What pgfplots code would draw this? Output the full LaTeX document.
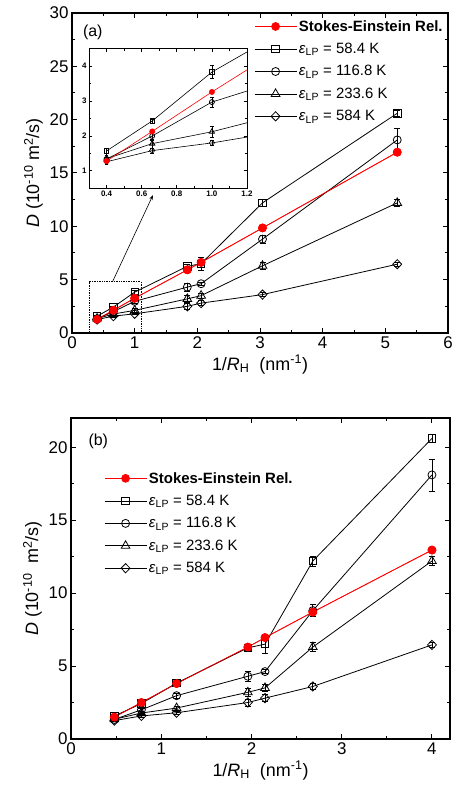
\documentclass[border=0pt]{standalone}
\usepackage{fontspec}
\setmainfont{Liberation Sans}
\usepackage{pgfplots}
\pgfplotsset{compat=1.18}
\usepackage{pgfplotstable}
\usetikzlibrary{arrows.meta}

% xa: 1/R_H in panel (a), xb: 1/R_H in panel (b)
\pgfplotstableread{
xa   xb   y     e
0.40 0.48 1.57  0.08
0.66 0.78 2.43  0.06
1.00 1.17 3.83  0.18
1.84 1.96 6.25  0.15
2.06 2.15 6.50  0.60
3.04 2.68 12.2  0.35
5.19 4.00 20.6  0.30
}\sqtab
\pgfplotstableread{
xa   xb   y     e
0.40 0.48 1.34  0.15
0.66 0.78 2.00  0.12
1.00 1.17 2.97  0.15
1.84 1.96 4.30  0.35
2.06 2.15 4.62  0.15
3.04 2.68 8.80  0.40
5.19 4.00 18.1  1.10
}\cirtab
\pgfplotstableread{
xa   xb   y     e
0.40 0.48 1.35  0.10
0.66 0.78 1.78  0.12
1.00 1.17 2.12  0.15
1.84 1.96 3.20  0.30
2.06 2.15 3.50  0.25
3.04 2.68 6.30  0.30
5.19 4.00 12.2  0.30
}\tritab
\pgfplotstableread{
xa   xb   y     e
0.40 0.48 1.26  0.08
0.66 0.78 1.58  0.08
1.00 1.17 1.80  0.08
1.84 1.96 2.50  0.25
2.06 2.15 2.80  0.25
3.04 2.68 3.60  0.20
5.19 4.00 6.45  0.20
}\diatab
\pgfplotstableread{
xa   ya     xb   yb
0.40 1.28   0.48 1.50
0.66 2.13   0.78 2.50
1.00 3.26   1.17 3.80
1.84 5.92   1.96 6.30
2.06 6.62   2.15 6.95
3.04 9.85   2.68 8.70
5.19 16.95  4.00 12.95
}\setab

\pgfplotsset{
  panel/.style={
    scale only axis, anchor=south west,
    axis line style={line width=1.2bp},
    tick align=inside, major tick length=5bp, minor tick length=3bp,
    every tick/.style={black, line width=1bp},
    minor x tick num=1, minor y tick num=1,
    tick label style={font=\fontsize{17}{20}\selectfont},
    label style={font=\fontsize{18}{21}\selectfont},
    /pgf/number format/assume math mode=true,
    ylabel={\textit{D} (10\textsuperscript{-10} m\textsuperscript{2}/s)},
    xlabel={1/\textit{R}\textsubscript{H}\ \ (nm\textsuperscript{-1})},
    legend cell align=left,
    legend style={draw=none, fill=none, anchor=north west, inner sep=0pt,
      font=\fontsize{15}{18}\selectfont, row sep=6.5bp},
    legend image code/.code={\draw[mark repeat=2, mark phase=2]
      plot coordinates {(0bp,0bp) (21bp,0bp) (42bp,0bp)};},
  },
  serie/.style={black, line width=0.8bp, mark options={fill=white, solid, line width=0.8bp},
    error bars/y dir=both, error bars/y explicit,
    error bars/error bar style={line width=0.7bp},
    error bars/error mark options={rotate=90, black, mark size=3bp, line width=0.7bp}},
  smallerr/.style={line width=0.6bp,
    error bars/error mark options={rotate=90, black, mark size=1.8bp, line width=0.6bp}},
  sestyle/.style={red, line width=0.7bp, mark=*, mark size=4bp, mark options={fill=red, draw=red}},
  diam/.style={mark=diamond, mark size=#1, mark options={xscale=1.3}},
}

\begin{document}
\begin{tikzpicture}
\useasboundingbox (0,0) rectangle (452bp,801bp);

% ---------- panel (a)
\begin{axis}[panel, at={(72bp,468bp)}, width=376bp, height=320bp,
  xmin=0, xmax=6, ymin=0, ymax=30,
  xtick={0,1,...,6}, ytick={0,5,...,30},
  legend style={at={(0.484,0.984)}},
]
\addplot[sestyle] table[x=xa, y=ya] {\setab};
\addlegendentry{\textbf{Stokes-Einstein Rel.}}
\addplot[serie, mark=square, mark size=3.7bp] table[x=xa, y=y, y error=e] {\sqtab};
\addlegendentry{\textit{ε}\textsubscript{LP} = 58.4 K}
\addplot[serie, mark=o, mark size=4bp] table[x=xa, y=y, y error=e] {\cirtab};
\addlegendentry{\textit{ε}\textsubscript{LP} = 116.8 K}
\addplot[serie, mark=triangle, mark size=5bp] table[x=xa, y=y, y error=e] {\tritab};
\addlegendentry{\textit{ε}\textsubscript{LP} = 233.6 K}
\addplot[serie, diam=4.6bp] table[x=xa, y=y, y error=e] {\diatab};
\addlegendentry{\textit{ε}\textsubscript{LP} = 584 K}
\addplot[sestyle, forget plot] table[x=xa, y=ya] {\setab};
\draw[densely dotted, line width=0.7bp] (axis cs:0.27,0) rectangle (axis cs:1.1,4.8);
\coordinate (arrowstart) at (axis cs:0.65,4.85);
\node[anchor=north west, font=\fontsize{16}{19}\selectfont] at (rel axis cs:0.02,0.975) {(a)};
\end{axis}

% ---------- inset
\begin{axis}[scale only axis, anchor=south west, at={(89bp,612.7bp)},
  width=158bp, height=139.6bp,
  xmin=0.3, xmax=1.2, ymin=0.5, ymax=4.5,
  axis line style={line width=0.8bp},
  tick align=inside, major tick length=3bp, minor tick length=2bp,
  every tick/.style={black, line width=0.7bp},
  minor x tick num=1, minor y tick num=1,
  xtick={0.4,0.6,...,1.2}, ytick={1,2,3,4},
  tick label style={font=\fontsize{8}{9}\bfseries},
  xticklabel style={/pgf/number format/.cd, fixed, fixed zerofill, precision=1},
  /pgf/number format/assume math mode=true,
  xticklabel shift=-1bp, yticklabel shift=-1bp,
]
\addplot[serie, smallerr, mark=square, mark size=2.2bp] table[x=xa, y=y, y error=e] {\sqtab};
\addplot[serie, smallerr, mark=o, mark size=2.5bp] table[x=xa, y=y, y error=e] {\cirtab};
\addplot[serie, smallerr, mark=triangle, mark size=3bp] table[x=xa, y=y, y error=e] {\tritab};
\addplot[serie, smallerr, diam=2.8bp] table[x=xa, y=y, y error=e] {\diatab};
\addplot[sestyle, line width=0.6bp, mark size=2.6bp] table[x=xa, y=ya] {\setab};
\end{axis}

\draw[-{Stealth[length=5bp, width=3.5bp]}, line width=0.6bp] (arrowstart) -- (153bp,606bp);

% ---------- panel (b)
\begin{axis}[panel, at={(71bp,62bp)}, width=379bp, height=321bp,
  xmin=0, xmax=4.2, ymin=0, ymax=22,
  xtick={0,1,...,4}, ytick={0,5,...,20},
  ylabel={\textit{D} (10\textsuperscript{-10}\ \ m\textsuperscript{2}/s)},
  legend style={at={(0.087,0.838)}},
]
\addplot[sestyle] table[x=xb, y=yb] {\setab};
\addlegendentry{\textbf{Stokes-Einstein Rel.}}
\addplot[serie, mark=square, mark size=3.7bp] table[x=xb, y=y, y error=e] {\sqtab};
\addlegendentry{\textit{ε}\textsubscript{LP} = 58.4 K}
\addplot[serie, mark=o, mark size=4bp] table[x=xb, y=y, y error=e] {\cirtab};
\addlegendentry{\textit{ε}\textsubscript{LP} = 116.8 K}
\addplot[serie, mark=triangle, mark size=5bp] table[x=xb, y=y, y error=e] {\tritab};
\addlegendentry{\textit{ε}\textsubscript{LP} = 233.6 K}
\addplot[serie, diam=4.6bp] table[x=xb, y=y, y error=e] {\diatab};
\addlegendentry{\textit{ε}\textsubscript{LP} = 584 K}
\addplot[sestyle, forget plot] table[x=xb, y=yb] {\setab};
\node[anchor=north west, font=\fontsize{16}{19}\selectfont] at (rel axis cs:0.037,0.96) {(b)};
\end{axis}
\end{tikzpicture}
\end{document}
